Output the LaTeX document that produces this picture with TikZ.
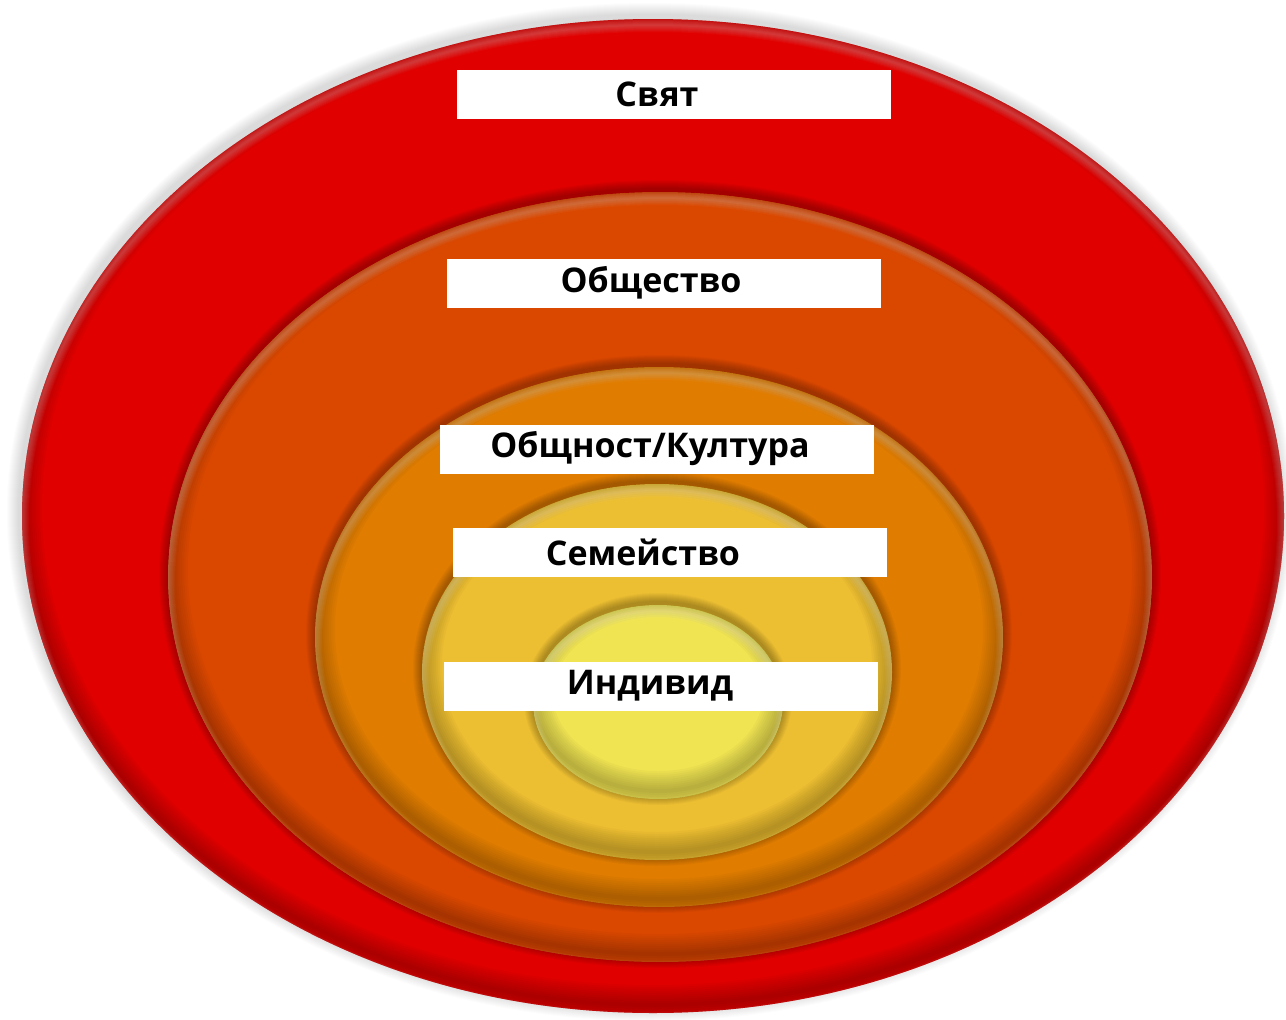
\documentclass[tikz,border=0pt]{standalone}
\usepackage{fontspec}
\setmainfont{Open Sans}
\definecolor{cRed}{RGB}{224,0,0}
\definecolor{cOrRed}{RGB}{218,72,0}
\definecolor{cOrange}{RGB}{224,124,0}
\definecolor{cGold}{RGB}{236,190,50}
\definecolor{cYellow}{RGB}{240,228,82}
\newcommand{\layerdisc}[6]{%
  % soft shadow cast on the layer below
  \foreach \i in {1,...,9}{%
    \fill[black,opacity=#6] (#1,#2-3) ellipse [x radius=#3pt+\i pt, y radius=#4pt+\i pt];
  }%
  \fill[#5] (#1,#2) ellipse [x radius=#3pt, y radius=#4pt];
  \begin{scope}
    \clip (#1,#2) ellipse [x radius=#3pt, y radius=#4pt];
    \foreach \w in {4,8,...,40}{%
      \draw[black,opacity=0.022,line width=\w pt] (#1,#2-8) ellipse [x radius=#3pt, y radius=#4pt];
    }%
    \foreach \w in {2,4,...,14}{%
      \draw[white,opacity=0.035,line width=\w pt] (#1,#2+6) ellipse [x radius=#3pt, y radius=#4pt];
    }%
  \end{scope}%
}
\begin{document}
\begin{tikzpicture}[x=1pt,y=-1pt,
  labelbox/.style={fill=white, minimum width=434pt, minimum height=49pt, inner sep=0pt,
    font=\fontsize{34}{40}\selectfont\bfseries, text=black}]
\useasboundingbox (0,0) rectangle (1286,1020);
\fill[white] (0,0) rectangle (1286,1020);
% outer halo
\foreach \i in {1,...,12}{%
  \fill[black!60,opacity=0.02] (650,512) ellipse [x radius=631pt+\i pt, y radius=497pt+\i pt];
}
\layerdisc{653}{516}{631}{497}{cRed}{0.0}
\layerdisc{660}{577}{492}{385}{cOrRed}{0.03}
\layerdisc{659}{637}{344}{270}{cOrange}{0.03}
\layerdisc{657}{672}{235}{188}{cGold}{0.03}
\layerdisc{658}{702}{125}{97}{cYellow}{0.03}
% labels
\node[labelbox] (world) at (674,94) {\hspace*{-34pt}Свят};
\node[labelbox] (society) at (664,283) {\hspace*{-26pt}Общество};
\node[labelbox] (community) at (656.5,449) {\hspace*{-13pt}Общност/Култура};
\node[labelbox] (family) at (669.5,552.5) {\hspace*{-53pt}Семейство};
\node[labelbox] (individual) at (660.5,686) {\hspace*{-21pt}Индивид};
\end{tikzpicture}
\end{document}
